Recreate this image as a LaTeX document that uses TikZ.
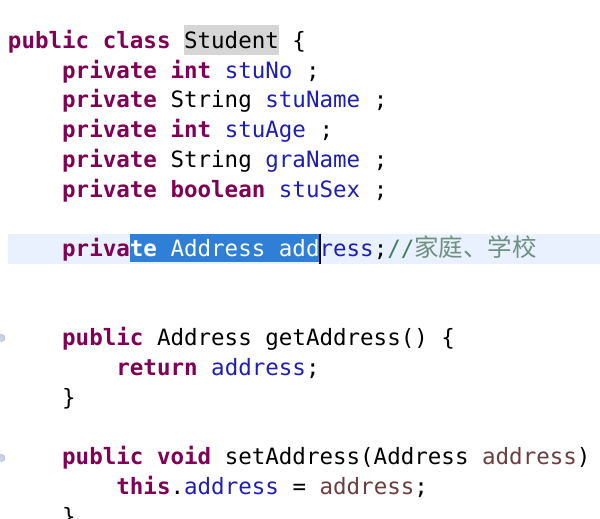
\documentclass[tikz,border=0pt]{standalone}
\usepackage{fontspec}
\newfontfamily\code{DejaVu Sans Mono}
\newfontfamily\cjk{Noto Sans CJK SC}
\definecolor{kwc}{HTML}{7F0055}
\definecolor{fldc}{HTML}{1E1EB4}
\definecolor{prmc}{HTML}{6A3E3E}
\definecolor{cmtc}{HTML}{3F7F5F}
\definecolor{cjkc}{HTML}{6F8F80}
\definecolor{linec}{HTML}{E8F1FD}
\definecolor{selc}{HTML}{2F7FD6}
\definecolor{occc}{HTML}{D6D6D6}
\definecolor{foldc}{HTML}{C9D5E6}
\newcommand\kw[1]{\textbf{\textcolor{kwc}{#1}}}
\newcommand\fld[1]{\textcolor{fldc}{#1}}
\newcommand\prm[1]{\textcolor{prmc}{#1}}
\newcommand\cmt[1]{\textcolor{cmtc}{#1}}
\begin{document}
\begin{tikzpicture}[x=1pt,y=1pt,
  codeline/.style={anchor=base west,inner sep=0pt,outer sep=0pt,
    font=\code\fontsize{22.5}{29.75}\selectfont,text=black},
  fold/.style={fill=foldc,draw=foldc!80!black,line width=0.4pt}]
\useasboundingbox (0,0) rectangle (600,519);
\clip (0,0) rectangle (600,519);
% backgrounds
\fill[white] (0,0) rectangle (600,519);
\fill[occc] (184,464) rectangle (278.5,494);
\fill[linec] (8,255) rectangle (600,285);
\fill[selc] (129.7,257) rectangle (319.5,285);
% fold markers
\fill[fold] (1.5,181) circle (3.5);
\fill[fold] (1.5,61) circle (3.5);
% code lines (baseline of line n = 519 - (48.5 + (n-1)*29.75))
\node[codeline] (l1) at (8,470.5) {\kw{public} \kw{class} Student \{};
\node[codeline] (l2) at (62.2,440.75) {\kw{private} \kw{int} \fld{stuNo} ;};
\node[codeline] (l3) at (62.2,411) {\kw{private} String \fld{stuName} ;};
\node[codeline] (l4) at (62.2,381.25) {\kw{private} \kw{int} \fld{stuAge} ;};
\node[codeline] (l5) at (62.2,351.5) {\kw{private} String \fld{graName} ;};
\node[codeline] (l6) at (62.2,321.75) {\kw{private} \kw{boolean} \fld{stuSex} ;};
\node[codeline] (l8) at (62.2,262.25) {\kw{priva}\textcolor{white}{\textbf{te} Address add}\fld{ress};\cmt{//}{\cjk\fontsize{24.5}{29.75}\selectfont\textcolor{cjkc}{家庭、学校}}};
\node[codeline] (l11) at (62.2,173) {\kw{public} Address getAddress() \{};
\node[codeline] (l12) at (116.4,143.25) {\kw{return} \fld{address};};
\node[codeline] (l13) at (62.2,113.5) {\}};
\node[codeline] (l15) at (62.2,54) {\kw{public} \kw{void} setAddress(Address \prm{address})};
\node[codeline] (l16) at (116.4,24.25) {\kw{this}.\fld{address} = \prm{address};};
\node[codeline] (l17) at (62.2,-5.5) {\}};
% cursor
\coordinate (ctop) at (320,285);
\coordinate (cbot) at (320,255);
\draw[black,line width=1.5pt] (ctop) -- (cbot);
\end{tikzpicture}
\end{document}
